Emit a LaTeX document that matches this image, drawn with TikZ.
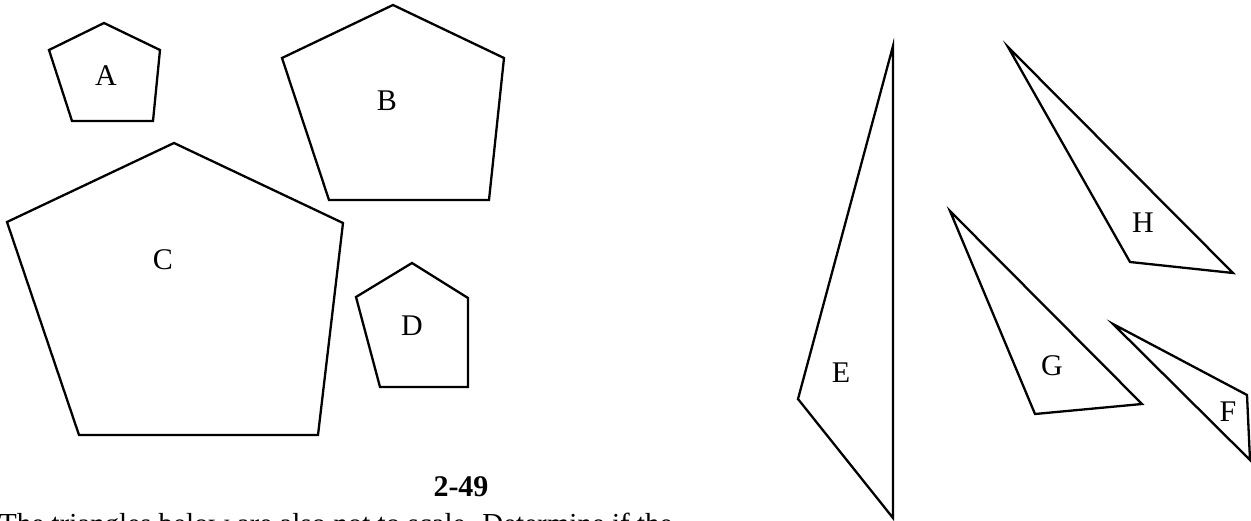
\documentclass[tikz,border=0pt]{standalone}
\usepackage{fontspec}
\setmainfont{Liberation Serif}
\begin{document}
\begin{tikzpicture}[x=1pt,y=-1pt,
  poly/.style={draw=black,line width=2.3pt,line join=miter},
  lbl/.style={font=\fontsize{30}{32}\selectfont,inner sep=0pt}]
\useasboundingbox (0,0) rectangle (1251,521);
% pentagons
\draw[poly] (104,23) -- (160,50) -- (153,121) -- (72,121) -- (49,50) -- cycle;
\draw[poly] (393,5) -- (504,58) -- (489,200) -- (329,200) -- (282,58) -- cycle;
\draw[poly] (174,143) -- (343,223) -- (318,435) -- (79,435) -- (7,222) -- cycle;
\draw[poly] (412,263) -- (468,298) -- (468,387) -- (380,387) -- (356,297) -- cycle;
% triangles
\draw[poly] (893,46) -- (893,518) -- (798,399) -- cycle;
\draw[poly] (1008,47) -- (1233,273) -- (1130,262) -- cycle;
\draw[poly] (950,211) -- (1142,404) -- (1035,414) -- cycle;
\draw[poly] (1113,324) -- (1247,395) -- (1250,460) -- cycle;
% labels
\node[lbl] (A) at (106,76) {A};
\node[lbl] (B) at (387,101) {B};
\node[lbl] (C) at (163,260) {C};
\node[lbl] (D) at (412,326) {D};
\node[lbl] (E) at (841,373) {E};
\node[lbl] (H) at (1143,223) {H};
\node[lbl] (G) at (1052,366) {G};
\node[lbl] (F) at (1228,412) {F};
\node[font=\bfseries\fontsize{30}{32}\selectfont,inner sep=0pt] (num) at (461,487) {2-49};
\node[anchor=base west,font=\fontsize{29}{31}\selectfont,inner sep=0pt] (txt) at (-1,533) {The triangles below are also not to scale. Determine if the};
\end{tikzpicture}
\end{document}
